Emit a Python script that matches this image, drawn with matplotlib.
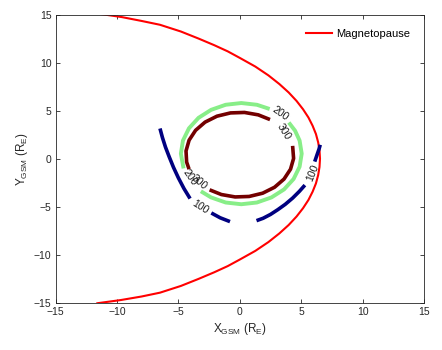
import numpy as np
import matplotlib
matplotlib.use("Agg")
import matplotlib.pyplot as plt

plt.rcParams["font.family"] = ["Liberation Sans", "DejaVu Sans"]
plt.rcParams["mathtext.fontset"] = "custom"
plt.rcParams["mathtext.rm"] = "Liberation Sans"
plt.rcParams["mathtext.it"] = "Liberation Sans:italic"

# magnetopause boundary (GSM, R_E), top to bottom
mp_x = [-11.3, -9.6, -8.0, -6.5, -4.8, -3.35, -2.09, -0.98, 0.0, 1.26, 2.33,
        3.22, 3.98, 4.62, 5.15, 5.59, 5.93, 6.2, 6.38, 6.49, 6.53,
        6.49, 6.38, 6.2, 5.93, 5.59, 5.15, 4.62, 3.98, 3.22, 2.33, 1.26,
        0.0, -0.98, -2.09, -3.35, -4.8, -6.5, -8.0, -9.7, -11.6]
mp_y = [15.07, 14.75, 14.35, 13.95, 13.25, 12.51, 11.83, 11.18, 10.5, 9.6, 8.68,
        7.78, 6.9, 6.02, 5.15, 4.29, 3.43, 2.57, 1.71, 0.86, 0.0,
        -0.86, -1.71, -2.57, -3.43, -4.29, -5.15, -6.02, -6.9, -7.78, -8.68, -9.6,
        -10.5, -11.18, -11.83, -12.51, -13.25, -13.95, -14.35, -14.72, -15.05]

# contour level 300 (two pieces, gaps hold the labels)
c300_x = [[2.46, 1.50, 0.38, -0.76, -1.86, -2.83, -3.60, -4.13, -4.38, -4.33, -4.13],
          [-2.46, -1.50, -0.38, 0.76, 1.86, 2.83, 3.60, 4.13, 4.38, 4.30]]
c300_y = [[4.08, 4.57, 4.82, 4.77, 4.43, 3.81, 2.96, 1.93, 0.81, -0.35, -1.09],
          [-3.24, -3.73, -3.98, -3.93, -3.59, -2.97, -2.12, -1.09, 0.03, 1.34]]

# contour level 200
c200_x = [[2.43, 1.39, 0.12, -1.15, -2.34, -3.36, -4.14, -4.63, -4.80, -4.58],
          [-3.17, -2.34, -1.15, 0.12, 1.39, 2.58, 3.60, 4.38, 4.87, 5.04, 4.87, 4.50, 3.99]]
c200_y = [[5.18, 5.62, 5.80, 5.62, 5.09, 4.26, 3.17, 1.89, 0.53, -1.01],
          [-3.39, -4.03, -4.56, -4.74, -4.56, -4.03, -3.20, -2.11, -0.83, 0.53, 1.89, 2.92, 3.77]]

# contour level 100 (cut by the magnetopause)
c100_x = [[-6.5, -6.3, -6.05, -5.75, -5.4, -5.0, -4.55, -4.05],
          [-2.32, -1.6, -0.8],
          [1.36, 1.9, 2.5, 3.1, 3.7, 4.3, 4.85, 5.3],
          [6.1, 6.3, 6.45, 6.55]]
c100_y = [[3.15, 2.2, 1.2, 0.2, -0.9, -2.0, -3.1, -4.15],
          [-5.65, -6.15, -6.55],
          [-6.45, -6.2, -5.8, -5.3, -4.75, -4.1, -3.4, -2.75],
          [-0.3, 0.45, 1.0, 1.45]]

# contour labels: text, x, y, angle
lab_text = ["200", "300", "200", "300", "100", "100"]
lab_x = [3.3, 3.55, -4.05, -3.3, -3.24, 5.9]
lab_y = [4.75, 2.8, -1.9, -2.45, -5.08, -1.5]
lab_rot = [-35, -58, -55, -40, -32, 68]

fig = plt.figure(figsize=(4.42, 3.5), dpi=100)
ax = fig.add_axes([0.1258, 0.135, 0.8335, 0.823])

ax.plot(mp_x, mp_y, color="#ff0000", lw=1.5, label="Magnetopause")

for xs, ys in zip(c100_x, c100_y):
    ax.plot(xs, ys, color="#000080", lw=2.6, solid_capstyle="butt")
for xs, ys in zip(c200_x, c200_y):
    ax.plot(xs, ys, color="#88ee88", lw=2.8, solid_capstyle="butt")
for xs, ys in zip(c300_x, c300_y):
    ax.plot(xs, ys, color="#730000", lw=2.6, solid_capstyle="butt")

for t, x, y, r in zip(lab_text, lab_x, lab_y, lab_rot):
    ax.text(x, y, t, rotation=r, ha="center", va="center",
            rotation_mode="anchor", fontsize=7.5, color="#1a1a1a")

ax.set_xlim(-15, 15)
ax.set_ylim(-15, 15)
ax.set_xticks([-15, -10, -5, 0, 5, 10, 15])
ax.set_yticks([-15, -10, -5, 0, 5, 10, 15])
ax.tick_params(direction="in", length=3, width=0.6, labelsize=7.5,
               top=True, right=True, colors="#262626", pad=3)
for s in ax.spines.values():
    s.set_linewidth(0.6)
    s.set_color("#262626")

ax.set_xlabel(r"X$_{\rm GSM}$ (R$_{\rm E}$)", fontsize=8.5, color="#262626", labelpad=3)
ax.set_ylabel(r"Y$_{\rm GSM}$ (R$_{\rm E}$)", fontsize=8.5, color="#262626", labelpad=3)

ax.legend(loc="upper right", frameon=False, fontsize=8, handlelength=2.3,
          handletextpad=0.4, bbox_to_anchor=(0.99, 0.985))

fig.savefig("out.png", dpi=100)
